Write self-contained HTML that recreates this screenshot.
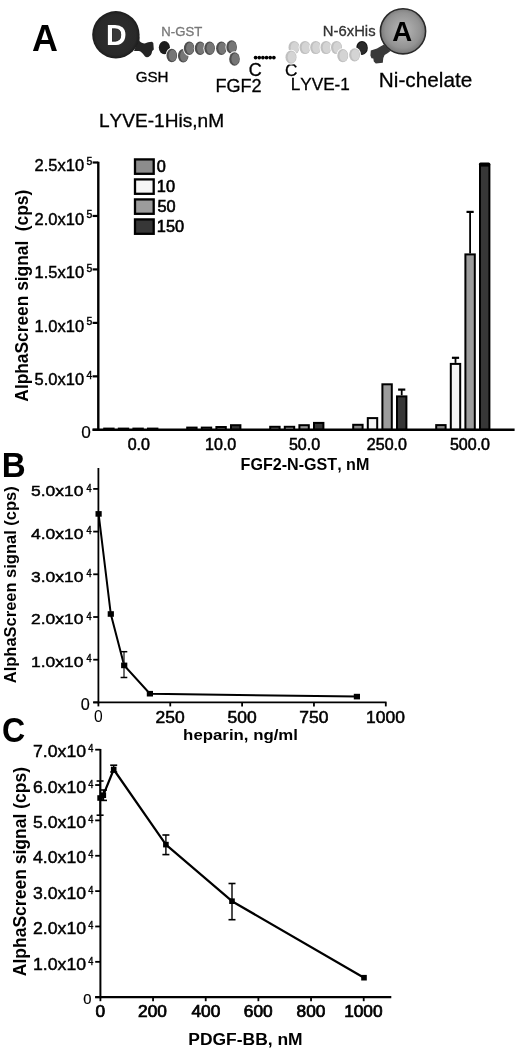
<!DOCTYPE html>
<html><head><meta charset="utf-8"><title>Figure</title>
<style>
html,body{margin:0;padding:0;background:#fff;}
body{width:520px;height:1049px;overflow:hidden;}
svg{display:block;will-change:transform;}
text{font-family:"Liberation Sans", sans-serif;font-kerning:none;}
</style></head>
<body>
<svg width="520" height="1049" viewBox="0 0 520 1049">
<defs><radialGradient id="ga" cx="50%" cy="48%" r="52%"><stop offset="0" stop-color="#b8b8b8"/><stop offset="0.75" stop-color="#939393"/><stop offset="1" stop-color="#767676"/></radialGradient><radialGradient id="gd" cx="50%" cy="50%" r="50%"><stop offset="0" stop-color="#2e2e2e"/><stop offset="0.85" stop-color="#292929"/><stop offset="1" stop-color="#1c1c1c"/></radialGradient></defs>
<text x="31.91" y="50.80" font-size="36.92" font-weight="bold" fill="#000" textLength="25.94" lengthAdjust="spacingAndGlyphs">A</text>
<path d="M139.5,36 L139.5,41 C141,42.5 143.5,43.8 145.5,43.3 C147,42.5 149,42 152,41.8 L153.3,43 L153.8,49.5 L152.2,51 L151.6,53.5 C150.8,55.5 149,57.2 147,57.2 C145.5,57.2 144.5,56 143.5,54.5 C142.5,53 141,51.5 139,51 L134,51 Z" fill="#242424"/>
<circle cx="115.9" cy="34.8" r="23.7" fill="url(#gd)"/>
<text x="106.09" y="44.50" font-size="28.63" font-weight="bold" fill="#fff" textLength="20.61" lengthAdjust="spacingAndGlyphs">D</text>
<path d="M112.5,29.5 L117,29.5 C120,29.5 121,32 121,34.7 C121,37.5 120,40 117,40 L112.5,40 Z" fill="#3a3a3a"/>
<ellipse cx="164.4" cy="47.6" rx="5.6" ry="6.6" fill="#1c1c1c"/>
<ellipse cx="171.8" cy="55.5" rx="6.2" ry="7.7" fill="#fff"/>
<ellipse cx="171.8" cy="55.5" rx="5.3" ry="6.8" fill="#4e4e4e"/>
<ellipse cx="172.60000000000002" cy="55.5" rx="3.9" ry="5.8" fill="#767676"/>
<ellipse cx="183.2" cy="55.8" rx="6.2" ry="7.7" fill="#fff"/>
<ellipse cx="183.2" cy="55.8" rx="5.3" ry="6.8" fill="#4e4e4e"/>
<ellipse cx="184.0" cy="55.8" rx="3.9" ry="5.8" fill="#767676"/>
<ellipse cx="189.2" cy="48.2" rx="6.2" ry="7.7" fill="#fff"/>
<ellipse cx="189.2" cy="48.2" rx="5.3" ry="6.8" fill="#4e4e4e"/>
<ellipse cx="190.0" cy="48.2" rx="3.9" ry="5.8" fill="#767676"/>
<ellipse cx="200.1" cy="48.2" rx="6.2" ry="7.7" fill="#fff"/>
<ellipse cx="200.1" cy="48.2" rx="5.3" ry="6.8" fill="#4e4e4e"/>
<ellipse cx="200.9" cy="48.2" rx="3.9" ry="5.8" fill="#767676"/>
<ellipse cx="209.6" cy="48.2" rx="6.2" ry="7.7" fill="#fff"/>
<ellipse cx="209.6" cy="48.2" rx="5.3" ry="6.8" fill="#4e4e4e"/>
<ellipse cx="210.4" cy="48.2" rx="3.9" ry="5.8" fill="#767676"/>
<ellipse cx="221.4" cy="48.2" rx="6.2" ry="7.7" fill="#fff"/>
<ellipse cx="221.4" cy="48.2" rx="5.3" ry="6.8" fill="#4e4e4e"/>
<ellipse cx="222.20000000000002" cy="48.2" rx="3.9" ry="5.8" fill="#767676"/>
<ellipse cx="231.6" cy="47" rx="6.2" ry="7.7" fill="#fff"/>
<ellipse cx="231.6" cy="47" rx="5.3" ry="6.8" fill="#4e4e4e"/>
<ellipse cx="232.4" cy="47" rx="3.9" ry="5.8" fill="#767676"/>
<ellipse cx="234.5" cy="59" rx="6.2" ry="7.7" fill="#fff"/>
<ellipse cx="234.5" cy="59" rx="5.3" ry="6.8" fill="#4e4e4e"/>
<ellipse cx="235.3" cy="59" rx="3.9" ry="5.8" fill="#767676"/>
<text x="161.37" y="36.20" font-size="12.39" font-weight="normal" fill="#777" stroke="#777" stroke-width="0.3" textLength="40.78" lengthAdjust="spacingAndGlyphs">N-GST</text>
<text x="135.69" y="82.00" font-size="14.97" font-weight="normal" fill="#000" stroke="#000" stroke-width="0.3" textLength="32.90" lengthAdjust="spacingAndGlyphs">GSH</text>
<text x="215.47" y="91.60" font-size="18.12" font-weight="normal" fill="#000" stroke="#000" stroke-width="0.3" textLength="46.19" lengthAdjust="spacingAndGlyphs">FGF2</text>
<text x="248.74" y="76.00" font-size="17.54" font-weight="normal" fill="#000" stroke="#000" stroke-width="0.3" textLength="13.00" lengthAdjust="spacingAndGlyphs">C</text>
<circle cx="255.60" cy="57.6" r="1.85" fill="#000"/>
<circle cx="259.25" cy="57.6" r="1.85" fill="#000"/>
<circle cx="262.90" cy="57.6" r="1.85" fill="#000"/>
<circle cx="266.55" cy="57.6" r="1.85" fill="#000"/>
<circle cx="270.20" cy="57.6" r="1.85" fill="#000"/>
<circle cx="273.85" cy="57.6" r="1.85" fill="#000"/>
<text x="285.08" y="75.70" font-size="16.54" font-weight="normal" fill="#000" stroke="#000" stroke-width="0.3" textLength="12.43" lengthAdjust="spacingAndGlyphs">C</text>
<text x="290.74" y="90.00" font-size="16.93" font-weight="normal" fill="#000" stroke="#000" stroke-width="0.3" textLength="59.15" lengthAdjust="spacingAndGlyphs">LYVE-1</text>
<ellipse cx="362" cy="47.9" rx="5.8" ry="7.0" fill="#111"/>
<ellipse cx="362.2" cy="47.9" rx="4.8" ry="6.0" fill="#2a2a2a"/>
<ellipse cx="294" cy="47.5" rx="6.4" ry="7.5" fill="#fff"/>
<ellipse cx="294" cy="47.5" rx="5.5" ry="6.6" fill="#c0c0c0"/>
<ellipse cx="294.8" cy="47.5" rx="4.1" ry="5.6" fill="#d4d4d4"/>
<ellipse cx="291" cy="57.2" rx="6.4" ry="7.5" fill="#fff"/>
<ellipse cx="291" cy="57.2" rx="5.5" ry="6.6" fill="#c0c0c0"/>
<ellipse cx="291.8" cy="57.2" rx="4.1" ry="5.6" fill="#d4d4d4"/>
<ellipse cx="305" cy="47.5" rx="6.4" ry="7.5" fill="#fff"/>
<ellipse cx="305" cy="47.5" rx="5.5" ry="6.6" fill="#c0c0c0"/>
<ellipse cx="305.8" cy="47.5" rx="4.1" ry="5.6" fill="#d4d4d4"/>
<ellipse cx="315.7" cy="47.5" rx="6.4" ry="7.5" fill="#fff"/>
<ellipse cx="315.7" cy="47.5" rx="5.5" ry="6.6" fill="#c0c0c0"/>
<ellipse cx="316.5" cy="47.5" rx="4.1" ry="5.6" fill="#d4d4d4"/>
<ellipse cx="326" cy="47.5" rx="6.4" ry="7.5" fill="#fff"/>
<ellipse cx="326" cy="47.5" rx="5.5" ry="6.6" fill="#c0c0c0"/>
<ellipse cx="326.8" cy="47.5" rx="4.1" ry="5.6" fill="#d4d4d4"/>
<ellipse cx="336.5" cy="47.5" rx="6.4" ry="7.5" fill="#fff"/>
<ellipse cx="336.5" cy="47.5" rx="5.5" ry="6.6" fill="#c0c0c0"/>
<ellipse cx="337.3" cy="47.5" rx="4.1" ry="5.6" fill="#d4d4d4"/>
<ellipse cx="342.8" cy="55.7" rx="6.4" ry="7.5" fill="#fff"/>
<ellipse cx="342.8" cy="55.7" rx="5.5" ry="6.6" fill="#c0c0c0"/>
<ellipse cx="343.6" cy="55.7" rx="4.1" ry="5.6" fill="#d4d4d4"/>
<ellipse cx="354.6" cy="54.8" rx="6.4" ry="7.5" fill="#fff"/>
<ellipse cx="354.6" cy="54.8" rx="5.5" ry="6.6" fill="#c0c0c0"/>
<ellipse cx="355.40000000000003" cy="54.8" rx="4.1" ry="5.6" fill="#d4d4d4"/>
<text x="322.83" y="35.70" font-size="14.42" font-weight="normal" fill="#333" stroke="#333" stroke-width="0.3" textLength="52.75" lengthAdjust="spacingAndGlyphs">N-6xHis</text>
<path d="M384,44.5 L380,46.8 L377,48.6 L370.8,50.6 L370.4,55.5 L371.5,58.3 L373.3,58.5 L373.8,61.5 L375.8,63.4 L382.8,62.8 L383.3,58 L384.6,55 L387.5,53.2 L390.5,51 Z" fill="#393939"/>
<circle cx="403" cy="31.3" r="22.6" fill="url(#ga)" stroke="#2a2a2a" stroke-width="1.6"/>
<text x="392.31" y="40.80" font-size="28.05" font-weight="bold" fill="#000" textLength="19.91" lengthAdjust="spacingAndGlyphs">A</text>
<text x="378.85" y="87.30" font-size="20.57" font-weight="normal" fill="#000" stroke="#000" stroke-width="0.3" textLength="93.42" lengthAdjust="spacingAndGlyphs">Ni-chelate</text>
<text x="98.98" y="126.80" font-size="18.39" font-weight="normal" fill="#000" stroke="#000" stroke-width="0.3" textLength="125.13" lengthAdjust="spacingAndGlyphs">LYVE-1His,nM</text>
<line x1="98.30" y1="161.70" x2="98.30" y2="430.80" stroke="#000" stroke-width="2.4"/>
<line x1="92.60" y1="162.50" x2="98.30" y2="162.50" stroke="#000" stroke-width="2.2"/>
<text x="34.60" y="171.30" font-size="16.58" font-weight="normal" fill="#000" stroke="#000" stroke-width="0.45" textLength="49.52" lengthAdjust="spacingAndGlyphs">2.5x10</text>
<text x="86.41" y="165.00" font-size="11.30" font-weight="normal" fill="#000" stroke="#000" stroke-width="0.45" textLength="5.81" lengthAdjust="spacingAndGlyphs">5</text>
<line x1="92.60" y1="215.96" x2="98.30" y2="215.96" stroke="#000" stroke-width="2.2"/>
<text x="34.60" y="224.76" font-size="16.58" font-weight="normal" fill="#000" stroke="#000" stroke-width="0.45" textLength="49.52" lengthAdjust="spacingAndGlyphs">2.0x10</text>
<text x="86.41" y="218.46" font-size="11.30" font-weight="normal" fill="#000" stroke="#000" stroke-width="0.45" textLength="5.81" lengthAdjust="spacingAndGlyphs">5</text>
<line x1="92.60" y1="269.42" x2="98.30" y2="269.42" stroke="#000" stroke-width="2.2"/>
<text x="34.60" y="278.22" font-size="16.58" font-weight="normal" fill="#000" stroke="#000" stroke-width="0.45" textLength="49.52" lengthAdjust="spacingAndGlyphs">1.5x10</text>
<text x="86.41" y="271.92" font-size="11.30" font-weight="normal" fill="#000" stroke="#000" stroke-width="0.45" textLength="5.81" lengthAdjust="spacingAndGlyphs">5</text>
<line x1="92.60" y1="322.88" x2="98.30" y2="322.88" stroke="#000" stroke-width="2.2"/>
<text x="34.60" y="331.68" font-size="16.58" font-weight="normal" fill="#000" stroke="#000" stroke-width="0.45" textLength="49.52" lengthAdjust="spacingAndGlyphs">1.0x10</text>
<text x="86.41" y="325.38" font-size="11.30" font-weight="normal" fill="#000" stroke="#000" stroke-width="0.45" textLength="5.81" lengthAdjust="spacingAndGlyphs">5</text>
<line x1="92.60" y1="376.34" x2="98.30" y2="376.34" stroke="#000" stroke-width="2.2"/>
<text x="34.60" y="385.14" font-size="16.58" font-weight="normal" fill="#000" stroke="#000" stroke-width="0.45" textLength="49.52" lengthAdjust="spacingAndGlyphs">5.0x10</text>
<text x="86.59" y="378.84" font-size="11.30" font-weight="normal" fill="#000" stroke="#000" stroke-width="0.45" textLength="5.81" lengthAdjust="spacingAndGlyphs">4</text>
<line x1="92.60" y1="429.80" x2="98.30" y2="429.80" stroke="#000" stroke-width="2.2"/>
<text x="81.33" y="438.00" font-size="17.21" font-weight="normal" fill="#000" stroke="#000" stroke-width="0.2" textLength="9.57" lengthAdjust="spacingAndGlyphs">0</text>
<text transform="translate(28.30,401.63) rotate(-90)" font-size="17.59" font-weight="bold" textLength="211.89" lengthAdjust="spacingAndGlyphs" xml:space="preserve">AlphaScreen signal  (cps)</text>
<rect x="104.20" y="428.60" width="9.40" height="1.20" fill="#8c8c8c" stroke="#000" stroke-width="2"/>
<rect x="118.80" y="428.60" width="9.40" height="1.20" fill="#f6f6f6" stroke="#000" stroke-width="2"/>
<rect x="133.40" y="428.60" width="9.40" height="1.20" fill="#9c9c9c" stroke="#000" stroke-width="2"/>
<rect x="148.00" y="428.60" width="9.40" height="1.20" fill="#373737" stroke="#000" stroke-width="2"/>
<rect x="187.20" y="427.60" width="9.40" height="2.20" fill="#8c8c8c" stroke="#000" stroke-width="2"/>
<rect x="201.80" y="427.60" width="9.40" height="2.20" fill="#f6f6f6" stroke="#000" stroke-width="2"/>
<rect x="216.40" y="427.00" width="9.40" height="2.80" fill="#9c9c9c" stroke="#000" stroke-width="2"/>
<rect x="231.00" y="425.20" width="9.40" height="4.60" fill="#373737" stroke="#000" stroke-width="2"/>
<rect x="270.20" y="426.80" width="9.40" height="3.00" fill="#8c8c8c" stroke="#000" stroke-width="2"/>
<rect x="284.80" y="426.80" width="9.40" height="3.00" fill="#f6f6f6" stroke="#000" stroke-width="2"/>
<rect x="299.40" y="425.20" width="9.40" height="4.60" fill="#9c9c9c" stroke="#000" stroke-width="2"/>
<rect x="314.00" y="422.90" width="9.40" height="6.90" fill="#373737" stroke="#000" stroke-width="2"/>
<rect x="353.20" y="424.80" width="9.40" height="5.00" fill="#8c8c8c" stroke="#000" stroke-width="2"/>
<rect x="367.80" y="418.10" width="9.40" height="11.70" fill="#f6f6f6" stroke="#000" stroke-width="2"/>
<rect x="382.40" y="384.30" width="9.40" height="45.50" fill="#9c9c9c" stroke="#000" stroke-width="2"/>
<line x1="401.70" y1="389.60" x2="401.70" y2="395.40" stroke="#000" stroke-width="1.8"/>
<line x1="398.10" y1="389.60" x2="405.30" y2="389.60" stroke="#000" stroke-width="2.2"/>
<rect x="397.00" y="396.40" width="9.40" height="33.40" fill="#373737" stroke="#000" stroke-width="2"/>
<rect x="436.20" y="425.10" width="9.40" height="4.70" fill="#8c8c8c" stroke="#000" stroke-width="2"/>
<line x1="455.50" y1="357.80" x2="455.50" y2="362.90" stroke="#000" stroke-width="1.8"/>
<line x1="451.90" y1="357.80" x2="459.10" y2="357.80" stroke="#000" stroke-width="2.2"/>
<rect x="450.80" y="363.90" width="9.40" height="65.90" fill="#f6f6f6" stroke="#000" stroke-width="2"/>
<line x1="470.10" y1="211.90" x2="470.10" y2="253.40" stroke="#000" stroke-width="1.8"/>
<line x1="466.50" y1="211.90" x2="473.70" y2="211.90" stroke="#000" stroke-width="2.2"/>
<rect x="465.40" y="254.40" width="9.40" height="175.40" fill="#9c9c9c" stroke="#000" stroke-width="2"/>
<rect x="480.00" y="165.20" width="9.40" height="264.60" fill="#373737" stroke="#000" stroke-width="2"/>
<rect x="478.9" y="162.4" width="11.4" height="4" rx="1.6" fill="#000"/>
<line x1="92.60" y1="429.80" x2="514.60" y2="429.80" stroke="#000" stroke-width="2.4"/>
<text x="127.71" y="449.90" font-size="16.22" font-weight="normal" fill="#000" stroke="#000" stroke-width="0.55" textLength="22.29" lengthAdjust="spacingAndGlyphs">0.0</text>
<text x="205.10" y="449.90" font-size="16.22" font-weight="normal" fill="#000" stroke="#000" stroke-width="0.55" textLength="31.20" lengthAdjust="spacingAndGlyphs">10.0</text>
<text x="288.89" y="449.90" font-size="16.22" font-weight="normal" fill="#000" stroke="#000" stroke-width="0.55" textLength="31.20" lengthAdjust="spacingAndGlyphs">50.0</text>
<text x="366.85" y="449.90" font-size="16.22" font-weight="normal" fill="#000" stroke="#000" stroke-width="0.55" textLength="40.12" lengthAdjust="spacingAndGlyphs">250.0</text>
<text x="449.93" y="449.90" font-size="16.22" font-weight="normal" fill="#000" stroke="#000" stroke-width="0.55" textLength="40.12" lengthAdjust="spacingAndGlyphs">500.0</text>
<text x="240.62" y="470.30" font-size="15.70" font-weight="bold" fill="#000" textLength="128.75" lengthAdjust="spacingAndGlyphs">FGF2-N-GST, nM</text>
<rect x="135.0" y="159.40" width="18.7" height="14.4" fill="#8c8c8c" stroke="#000" stroke-width="2.3"/>
<rect x="135.0" y="179.40" width="18.7" height="14.4" fill="#f6f6f6" stroke="#000" stroke-width="2.3"/>
<rect x="135.0" y="199.40" width="18.7" height="14.4" fill="#9c9c9c" stroke="#000" stroke-width="2.3"/>
<rect x="135.0" y="219.40" width="18.7" height="14.4" fill="#373737" stroke="#000" stroke-width="2.3"/>
<text x="156.66" y="171.90" font-size="16.47" font-weight="normal" fill="#000" stroke="#000" stroke-width="0.6" textLength="9.09" lengthAdjust="spacingAndGlyphs">0</text>
<text x="156.85" y="191.80" font-size="16.47" font-weight="normal" fill="#000" stroke="#000" stroke-width="0.6" textLength="18.19" lengthAdjust="spacingAndGlyphs">10</text>
<text x="157.45" y="211.70" font-size="16.47" font-weight="normal" fill="#000" stroke="#000" stroke-width="0.6" textLength="18.19" lengthAdjust="spacingAndGlyphs">50</text>
<text x="156.85" y="231.60" font-size="16.47" font-weight="normal" fill="#000" stroke="#000" stroke-width="0.6" textLength="27.28" lengthAdjust="spacingAndGlyphs">150</text>
<text x="1.78" y="476.70" font-size="35.47" font-weight="bold" fill="#000" textLength="23.92" lengthAdjust="spacingAndGlyphs">B</text>
<line x1="98.40" y1="468.00" x2="98.40" y2="703.40" stroke="#000" stroke-width="1.8"/>
<line x1="93.20" y1="702.40" x2="386.50" y2="702.40" stroke="#000" stroke-width="1.8"/>
<line x1="93.20" y1="702.40" x2="98.40" y2="702.40" stroke="#000" stroke-width="1.8"/>
<text x="80.87" y="709.90" font-size="16.22" font-weight="normal" fill="#000" stroke="#000" stroke-width="0.2" textLength="9.02" lengthAdjust="spacingAndGlyphs">0</text>
<line x1="93.20" y1="659.70" x2="98.40" y2="659.70" stroke="#000" stroke-width="1.8"/>
<text x="31.03" y="666.90" font-size="15.29" font-weight="normal" fill="#000" stroke="#000" stroke-width="0.45" textLength="52.43" lengthAdjust="spacingAndGlyphs">1.0x10</text>
<text x="86.41" y="662.40" font-size="10.43" font-weight="normal" fill="#000" stroke="#000" stroke-width="0.45" textLength="5.13" lengthAdjust="spacingAndGlyphs">4</text>
<line x1="93.20" y1="617.00" x2="98.40" y2="617.00" stroke="#000" stroke-width="1.8"/>
<text x="31.03" y="624.20" font-size="15.29" font-weight="normal" fill="#000" stroke="#000" stroke-width="0.45" textLength="52.43" lengthAdjust="spacingAndGlyphs">2.0x10</text>
<text x="86.41" y="619.70" font-size="10.43" font-weight="normal" fill="#000" stroke="#000" stroke-width="0.45" textLength="5.13" lengthAdjust="spacingAndGlyphs">4</text>
<line x1="93.20" y1="574.30" x2="98.40" y2="574.30" stroke="#000" stroke-width="1.8"/>
<text x="31.03" y="581.50" font-size="15.29" font-weight="normal" fill="#000" stroke="#000" stroke-width="0.45" textLength="52.43" lengthAdjust="spacingAndGlyphs">3.0x10</text>
<text x="86.41" y="577.00" font-size="10.43" font-weight="normal" fill="#000" stroke="#000" stroke-width="0.45" textLength="5.13" lengthAdjust="spacingAndGlyphs">4</text>
<line x1="93.20" y1="531.60" x2="98.40" y2="531.60" stroke="#000" stroke-width="1.8"/>
<text x="31.03" y="538.80" font-size="15.29" font-weight="normal" fill="#000" stroke="#000" stroke-width="0.45" textLength="52.43" lengthAdjust="spacingAndGlyphs">4.0x10</text>
<text x="86.41" y="534.30" font-size="10.43" font-weight="normal" fill="#000" stroke="#000" stroke-width="0.45" textLength="5.13" lengthAdjust="spacingAndGlyphs">4</text>
<line x1="93.20" y1="488.90" x2="98.40" y2="488.90" stroke="#000" stroke-width="1.8"/>
<text x="31.03" y="496.10" font-size="15.29" font-weight="normal" fill="#000" stroke="#000" stroke-width="0.45" textLength="52.43" lengthAdjust="spacingAndGlyphs">5.0x10</text>
<text x="86.41" y="491.60" font-size="10.43" font-weight="normal" fill="#000" stroke="#000" stroke-width="0.45" textLength="5.13" lengthAdjust="spacingAndGlyphs">4</text>
<line x1="98.40" y1="702.40" x2="98.40" y2="706.40" stroke="#000" stroke-width="1.8"/>
<text x="93.90" y="722.30" font-size="15.66" font-weight="normal" fill="#000" textLength="8.71" lengthAdjust="spacingAndGlyphs">0</text>
<line x1="170.25" y1="702.40" x2="170.25" y2="706.40" stroke="#000" stroke-width="1.8"/>
<text x="155.60" y="722.60" font-size="16.51" font-weight="normal" fill="#000" stroke="#000" stroke-width="0.55" textLength="29.11" lengthAdjust="spacingAndGlyphs">250</text>
<line x1="242.10" y1="702.40" x2="242.10" y2="706.40" stroke="#000" stroke-width="1.8"/>
<text x="227.54" y="722.60" font-size="16.51" font-weight="normal" fill="#000" stroke="#000" stroke-width="0.55" textLength="29.11" lengthAdjust="spacingAndGlyphs">500</text>
<line x1="313.95" y1="702.40" x2="313.95" y2="706.40" stroke="#000" stroke-width="1.8"/>
<text x="299.29" y="722.60" font-size="16.51" font-weight="normal" fill="#000" stroke="#000" stroke-width="0.55" textLength="29.11" lengthAdjust="spacingAndGlyphs">750</text>
<line x1="385.80" y1="702.40" x2="385.80" y2="706.40" stroke="#000" stroke-width="1.8"/>
<text x="366.07" y="722.60" font-size="16.51" font-weight="normal" fill="#000" stroke="#000" stroke-width="0.55" textLength="38.81" lengthAdjust="spacingAndGlyphs">1000</text>
<text x="183.13" y="740.00" font-size="15.18" font-weight="bold" fill="#000" textLength="114.86" lengthAdjust="spacingAndGlyphs">heparin, ng/ml</text>
<text transform="translate(15.90,683.21) rotate(-90)" font-size="16.13" font-weight="bold" textLength="196.93" lengthAdjust="spacingAndGlyphs" xml:space="preserve">AlphaScreen signal (cps)</text>
<polyline points="98.6,513.9 110.8,614 124.2,665.4 149.9,693.7 356.9,696.6" fill="none" stroke="#000" stroke-width="2"/>
<line x1="124.00" y1="651.70" x2="124.00" y2="677.50" stroke="#222" stroke-width="1.3"/>
<line x1="121.00" y1="651.70" x2="127.30" y2="651.70" stroke="#000" stroke-width="1.5"/>
<line x1="120.60" y1="677.50" x2="127.30" y2="677.50" stroke="#000" stroke-width="1.5"/>
<rect x="95.5" y="511.09999999999997" width="6.2" height="5.6" fill="#000"/>
<rect x="107.7" y="611.2" width="6.2" height="5.6" fill="#000"/>
<rect x="121.10000000000001" y="662.6" width="6.2" height="5.6" fill="#000"/>
<rect x="146.8" y="690.9000000000001" width="6.2" height="5.6" fill="#000"/>
<rect x="353.79999999999995" y="693.8000000000001" width="6.2" height="5.6" fill="#000"/>
<text x="1.88" y="742.40" font-size="35.09" font-weight="bold" fill="#000" textLength="23.20" lengthAdjust="spacingAndGlyphs">C</text>
<line x1="100.40" y1="749.00" x2="100.40" y2="998.20" stroke="#000" stroke-width="2"/>
<line x1="95.20" y1="997.20" x2="391.30" y2="997.20" stroke="#000" stroke-width="2.2"/>
<line x1="95.20" y1="997.20" x2="100.40" y2="997.20" stroke="#000" stroke-width="1.8"/>
<text x="83.22" y="1004.20" font-size="14.81" font-weight="normal" fill="#000" stroke="#000" stroke-width="0.2" textLength="8.24" lengthAdjust="spacingAndGlyphs">0</text>
<line x1="95.20" y1="961.84" x2="100.40" y2="961.84" stroke="#000" stroke-width="1.8"/>
<text x="33.05" y="969.54" font-size="16.43" font-weight="normal" fill="#000" stroke="#000" stroke-width="0.45" textLength="53.01" lengthAdjust="spacingAndGlyphs">1.0x10</text>
<text x="88.21" y="964.54" font-size="11.30" font-weight="normal" fill="#000" stroke="#000" stroke-width="0.45" textLength="5.13" lengthAdjust="spacingAndGlyphs">4</text>
<line x1="95.20" y1="926.48" x2="100.40" y2="926.48" stroke="#000" stroke-width="1.8"/>
<text x="33.05" y="934.18" font-size="16.43" font-weight="normal" fill="#000" stroke="#000" stroke-width="0.45" textLength="53.01" lengthAdjust="spacingAndGlyphs">2.0x10</text>
<text x="88.21" y="929.18" font-size="11.30" font-weight="normal" fill="#000" stroke="#000" stroke-width="0.45" textLength="5.13" lengthAdjust="spacingAndGlyphs">4</text>
<line x1="95.20" y1="891.12" x2="100.40" y2="891.12" stroke="#000" stroke-width="1.8"/>
<text x="33.05" y="898.82" font-size="16.43" font-weight="normal" fill="#000" stroke="#000" stroke-width="0.45" textLength="53.01" lengthAdjust="spacingAndGlyphs">3.0x10</text>
<text x="88.21" y="893.82" font-size="11.30" font-weight="normal" fill="#000" stroke="#000" stroke-width="0.45" textLength="5.13" lengthAdjust="spacingAndGlyphs">4</text>
<line x1="95.20" y1="855.76" x2="100.40" y2="855.76" stroke="#000" stroke-width="1.8"/>
<text x="33.05" y="863.46" font-size="16.43" font-weight="normal" fill="#000" stroke="#000" stroke-width="0.45" textLength="53.01" lengthAdjust="spacingAndGlyphs">4.0x10</text>
<text x="88.21" y="858.46" font-size="11.30" font-weight="normal" fill="#000" stroke="#000" stroke-width="0.45" textLength="5.13" lengthAdjust="spacingAndGlyphs">4</text>
<line x1="95.20" y1="820.40" x2="100.40" y2="820.40" stroke="#000" stroke-width="1.8"/>
<text x="33.05" y="828.10" font-size="16.43" font-weight="normal" fill="#000" stroke="#000" stroke-width="0.45" textLength="53.01" lengthAdjust="spacingAndGlyphs">5.0x10</text>
<text x="88.21" y="823.10" font-size="11.30" font-weight="normal" fill="#000" stroke="#000" stroke-width="0.45" textLength="5.13" lengthAdjust="spacingAndGlyphs">4</text>
<line x1="95.20" y1="785.04" x2="100.40" y2="785.04" stroke="#000" stroke-width="1.8"/>
<text x="33.05" y="792.74" font-size="16.43" font-weight="normal" fill="#000" stroke="#000" stroke-width="0.45" textLength="53.01" lengthAdjust="spacingAndGlyphs">6.0x10</text>
<text x="88.21" y="787.74" font-size="11.30" font-weight="normal" fill="#000" stroke="#000" stroke-width="0.45" textLength="5.13" lengthAdjust="spacingAndGlyphs">4</text>
<line x1="95.20" y1="749.68" x2="100.40" y2="749.68" stroke="#000" stroke-width="1.8"/>
<text x="33.05" y="757.38" font-size="16.43" font-weight="normal" fill="#000" stroke="#000" stroke-width="0.45" textLength="53.01" lengthAdjust="spacingAndGlyphs">7.0x10</text>
<text x="88.21" y="752.38" font-size="11.30" font-weight="normal" fill="#000" stroke="#000" stroke-width="0.45" textLength="5.13" lengthAdjust="spacingAndGlyphs">4</text>
<line x1="100.40" y1="997.20" x2="100.40" y2="1001.20" stroke="#000" stroke-width="1.8"/>
<text x="95.59" y="1017.20" font-size="15.83" font-weight="normal" fill="#000" stroke="#000" stroke-width="0.7" textLength="9.61" lengthAdjust="spacingAndGlyphs">0</text>
<line x1="153.06" y1="997.20" x2="153.06" y2="1001.20" stroke="#000" stroke-width="1.8"/>
<text x="138.04" y="1017.20" font-size="15.83" font-weight="normal" fill="#000" stroke="#000" stroke-width="0.7" textLength="28.84" lengthAdjust="spacingAndGlyphs">200</text>
<line x1="205.72" y1="997.20" x2="205.72" y2="1001.20" stroke="#000" stroke-width="1.8"/>
<text x="191.44" y="1017.20" font-size="15.83" font-weight="normal" fill="#000" stroke="#000" stroke-width="0.7" textLength="28.84" lengthAdjust="spacingAndGlyphs">400</text>
<line x1="258.38" y1="997.20" x2="258.38" y2="1001.20" stroke="#000" stroke-width="1.8"/>
<text x="243.86" y="1017.20" font-size="15.83" font-weight="normal" fill="#000" stroke="#000" stroke-width="0.7" textLength="28.84" lengthAdjust="spacingAndGlyphs">600</text>
<line x1="311.04" y1="997.20" x2="311.04" y2="1001.20" stroke="#000" stroke-width="1.8"/>
<text x="296.58" y="1017.20" font-size="15.83" font-weight="normal" fill="#000" stroke="#000" stroke-width="0.7" textLength="28.84" lengthAdjust="spacingAndGlyphs">800</text>
<line x1="363.70" y1="997.20" x2="363.70" y2="1001.20" stroke="#000" stroke-width="1.8"/>
<text x="344.15" y="1017.20" font-size="15.83" font-weight="normal" fill="#000" stroke="#000" stroke-width="0.7" textLength="38.46" lengthAdjust="spacingAndGlyphs">1000</text>
<text x="188.33" y="1045.00" font-size="16.35" font-weight="bold" fill="#000" textLength="114.33" lengthAdjust="spacingAndGlyphs">PDGF-BB, nM</text>
<text transform="translate(26.40,976.24) rotate(-90)" font-size="18.17" font-weight="bold" textLength="209.31" lengthAdjust="spacingAndGlyphs" xml:space="preserve">AlphaScreen signal (cps)</text>
<polyline points="100.1,798 103.3,795.2 113.7,769.5 165.9,844.6 232,901.2 364,977.7" fill="none" stroke="#000" stroke-width="2.2" stroke-linejoin="round"/>
<line x1="100.10" y1="781.00" x2="100.10" y2="815.20" stroke="#000" stroke-width="1.4"/>
<line x1="96.60" y1="781.00" x2="103.60" y2="781.00" stroke="#000" stroke-width="1.6"/>
<line x1="96.60" y1="815.20" x2="103.60" y2="815.20" stroke="#000" stroke-width="1.6"/>
<line x1="103.50" y1="790.00" x2="103.50" y2="800.40" stroke="#000" stroke-width="1.4"/>
<line x1="100.00" y1="790.00" x2="107.00" y2="790.00" stroke="#000" stroke-width="1.6"/>
<line x1="100.00" y1="800.40" x2="107.00" y2="800.40" stroke="#000" stroke-width="1.6"/>
<line x1="113.70" y1="765.20" x2="113.70" y2="772.00" stroke="#000" stroke-width="1.4"/>
<line x1="110.20" y1="765.20" x2="117.20" y2="765.20" stroke="#000" stroke-width="1.6"/>
<line x1="110.20" y1="772.00" x2="117.20" y2="772.00" stroke="#000" stroke-width="1.6"/>
<line x1="165.90" y1="835.00" x2="165.90" y2="854.60" stroke="#000" stroke-width="1.4"/>
<line x1="162.40" y1="835.00" x2="169.40" y2="835.00" stroke="#000" stroke-width="1.6"/>
<line x1="162.40" y1="854.60" x2="169.40" y2="854.60" stroke="#000" stroke-width="1.6"/>
<line x1="232.00" y1="883.50" x2="232.00" y2="919.70" stroke="#000" stroke-width="1.4"/>
<line x1="228.50" y1="883.50" x2="235.50" y2="883.50" stroke="#000" stroke-width="1.6"/>
<line x1="228.50" y1="919.70" x2="235.50" y2="919.70" stroke="#000" stroke-width="1.6"/>
<rect x="97.3" y="795.2" width="5.6" height="5.6" fill="#000"/>
<rect x="100.5" y="792.4000000000001" width="5.6" height="5.6" fill="#000"/>
<rect x="110.9" y="766.7" width="5.6" height="5.6" fill="#000"/>
<rect x="163.1" y="841.8000000000001" width="5.6" height="5.6" fill="#000"/>
<rect x="229.2" y="898.4000000000001" width="5.6" height="5.6" fill="#000"/>
<rect x="361.2" y="974.9000000000001" width="5.6" height="5.6" fill="#000"/>
</svg>
</body></html>
